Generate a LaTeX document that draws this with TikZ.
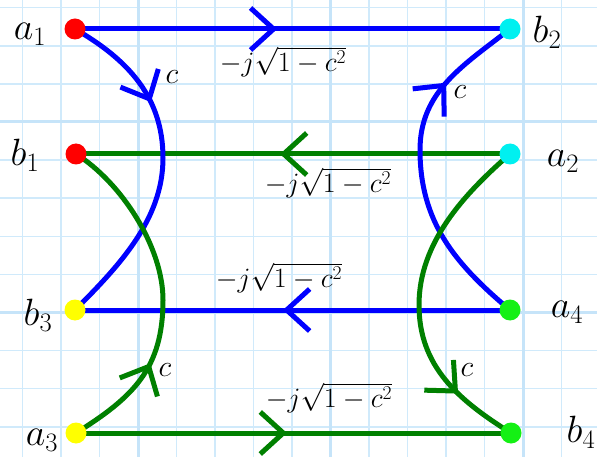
\RequirePackage{fix-cm}
\documentclass[tikz,border=0pt]{standalone}
\usetikzlibrary{arrows.meta,decorations.markings}
\pgfdeclarelayer{gridlayer}
\pgfdeclarelayer{edgelayer}
\pgfsetlayers{gridlayer,edgelayer,main}
\definecolor{gridc}{RGB}{208,234,251}
\definecolor{gridm}{RGB}{198,228,249}
\definecolor{lineblue}{RGB}{0,0,255}
\definecolor{linegreen}{RGB}{0,128,0}
\definecolor{dotred}{RGB}{255,0,0}
\definecolor{dotcyan}{RGB}{0,240,240}
\definecolor{dotyellow}{RGB}{255,255,0}
\definecolor{dotgreen}{RGB}{20,240,20}
\tikzset{
  chev/.tip={Straight Barb[length=23pt,width=42pt]},
  fwdmark/.style={postaction={decorate},decoration={markings,mark=at position #1 with {\arrow{chev}}}},
  revmark/.style={postaction={decorate},decoration={markings,mark=at position #1 with {\arrowreversed{chev}}}},
  bedge/.style={draw=lineblue,line width=5pt},
  gedge/.style={draw=linegreen,line width=5pt},
  dot/.style={circle,inner sep=0pt,minimum size=21pt},
  gridminor/.style={draw=gridc,line width=1.5pt},
  gridmajor/.style={draw=gridm,line width=3pt},
  nlab/.style={inner sep=0pt,font=\fontsize{38}{42}\selectfont},
  flab/.style={inner sep=0pt,font=\fontsize{28}{32}\selectfont},
  clab/.style={inner sep=0pt,font=\fontsize{30}{34}\selectfont},
}
\begin{document}
\begin{tikzpicture}[x=1pt,y=-1pt]
\useasboundingbox (0,0) rectangle (597,457);
\begin{pgfonlayer}{gridlayer}
  \fill[white] (0,0) rectangle (597,457);
  \foreach \k in {0,...,15} {\draw[gridminor] ({22.5+38.5*\k},0) -- ({22.5+38.5*\k},457);}
  \foreach \k in {0,...,11} {\draw[gridminor] (0,{7.7+38.1*\k}) -- (597,{7.7+38.1*\k});}
  \foreach \k in {3,8,13} {\draw[gridmajor] ({22.5+38.5*\k},0) -- ({22.5+38.5*\k},457);}
  \foreach \k in {3,8} {\draw[gridmajor] (0,{7.7+38.1*\k}) -- (597,{7.7+38.1*\k});}
\end{pgfonlayer}

\node[dot,fill=dotred] (a1) at (75,29) {};
\node[dot,fill=dotcyan] (b2) at (510,29) {};
\node[dot,fill=dotred] (b1) at (76,154) {};
\node[dot,fill=dotcyan] (a2) at (510,154) {};
\node[dot,fill=dotyellow] (b3) at (75,310) {};
\node[dot,fill=dotgreen] (a4) at (510,310) {};
\node[dot,fill=dotyellow] (a3) at (76,433) {};
\node[dot,fill=dotgreen] (b4) at (511,433) {};

\coordinate (ml1) at (163,158);
\coordinate (ml2) at (163,300);
\coordinate (mr1) at (420,150);
\coordinate (mr2) at (419,305);

\begin{pgfonlayer}{edgelayer}
  \draw[bedge,fwdmark=0.465] (a1.center) -- (b2.center);
  \draw[gedge,revmark=0.47] (b1.center) -- (a2.center);
  \draw[bedge,revmark=0.478] (b3.center) -- (a4.center);
  \draw[gedge,fwdmark=0.485] (a3.center) -- (b4.center);
  \draw[bedge,fwdmark=0.31] (a1.center) to[out=-30,in=90] (ml1) to[out=-90,in=45,looseness=0.9] (b3.center);
  \draw[gedge,revmark=0.70] (b1.center) to[out=-32,in=90,looseness=0.8] (ml2) to[out=-90,in=32,looseness=1.1] (a3.center);
  \draw[bedge,revmark=0.24] (b2.center) to[out=218,in=90,looseness=1.0] (mr1) to[out=-90,in=140] (a4.center);
  \draw[gedge,fwdmark=0.81] (a2.center) to[out=221,in=90,looseness=0.9] (mr2) to[out=-90,in=148,looseness=1.0] (b4.center);
\end{pgfonlayer}

\node[nlab] (la1) at (30,34) {$a_1$};
\node[nlab] (lb2) at (547,32) {$b_2$};
\node[nlab] (lb1) at (25,155) {$b_1$};
\node[nlab] (la2) at (563,161) {$a_2$};
\node[nlab] (lb3) at (38,315) {$b_3$};
\node[nlab] (la4) at (567,312) {$a_4$};
\node[nlab] (la3) at (42,440) {$a_3$};
\node[nlab] (lb4) at (581,432) {$b_4$};

\node[flab] (f1) at (283,62) {$-j\sqrt{1-c^2}$};
\node[flab] (f2) at (328,183) {$-j\sqrt{1-c^2}$};
\node[flab] (f3) at (279,278) {$-j\sqrt{1-c^2}$};
\node[flab] (f4) at (329,398) {$-j\sqrt{1-c^2}$};

\node[clab] (c1) at (172,77) {$c$};
\node[clab] (c2) at (460,92) {$c$};
\node[clab] (c3) at (165,370) {$c$};
\node[clab] (c4) at (467,370) {$c$};
\end{tikzpicture}
\end{document}
